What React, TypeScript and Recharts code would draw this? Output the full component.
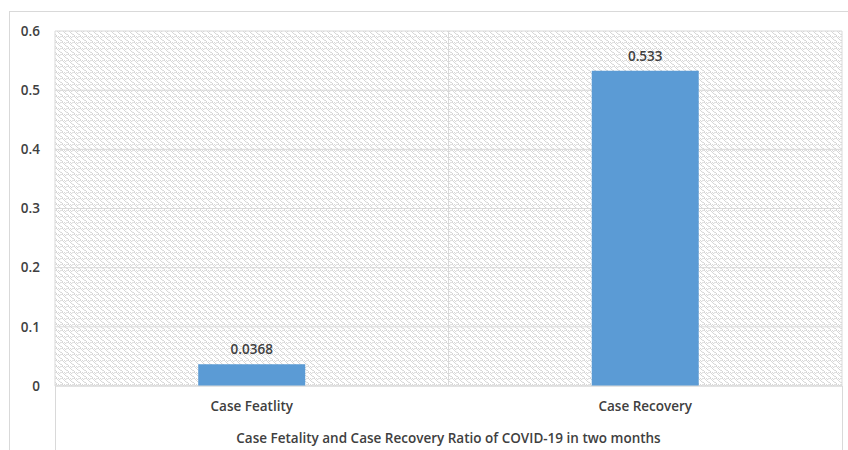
import { BarChart, Bar, XAxis, YAxis, CartesianGrid, LabelList } from 'recharts';

const categories = ['Case Featlity', 'Case Recovery'];
const ratios = [0.0368, 0.533];
const yTicks = [0, 0.1, 0.2, 0.3, 0.4, 0.5, 0.6];
const axisTitle = 'Case Fetality and Case Recovery Ratio of COVID-19 in two months';

const data = categories.map((name, i) => ({ name, ratio: ratios[i] }));

const FONT = '"Open Sans", sans-serif';
const TEXT = '#404040';
const GRID = '#d9d9d9';
const textStyle = { fill: TEXT, fontSize: 13.5, fontFamily: FONT, fontWeight: 600 };

export default function App() {
  return (
    <div style={{ position: 'absolute', left: 0, top: 0, width: 848, height: 450, background: '#fff', fontFamily: FONT }}>
      {/* outer chart frame (open at the bottom, cut by the window) */}
      <div style={{ position: 'absolute', left: 9, top: 11, width: 839, height: 439, borderLeft: '1px solid #d9d9d9', borderTop: '1px solid #d9d9d9' }} />
      {/* category table edges below the plot */}
      <div style={{ position: 'absolute', left: 55, top: 386, width: 786, height: 64, borderLeft: '1px solid #d9d9d9', borderRight: '1px solid #d9d9d9' }} />
      <BarChart
        width={848}
        height={450}
        data={data}
        margin={{ top: 31, right: 6, bottom: 0, left: 0 }}
        barCategoryGap="36.4%"
        style={{ position: 'absolute', left: 0, top: 0 }}
      >
        <defs>
          <pattern id="hatch" width="6" height="6" patternUnits="userSpaceOnUse">
            <rect width="6" height="6" fill="#ffffff" />
            <path d="M0 1 L2 0 L6 4 M-1 5 L1 4 L3 6 M4 0 L6 2" stroke="#d2d2d2" strokeWidth="0.9" fill="none" />
          </pattern>
        </defs>
        <CartesianGrid
          fill="url(#hatch)"
          stroke={GRID}
          verticalCoordinatesGenerator={({ offset }: any) => [
            offset.left,
            offset.left + offset.width / 2,
            offset.left + offset.width,
          ]}
        />
        <XAxis
          dataKey="name"
          height={64}
          axisLine={{ stroke: GRID }}
          tickLine={false}
          tickSize={0}
          tickMargin={15}
          tick={textStyle}
          label={{ value: axisTitle, position: 'insideBottom', offset: 7, ...textStyle }}
        />
        <YAxis
          width={55}
          domain={[0, 0.6]}
          ticks={yTicks}
          axisLine={false}
          tickLine={false}
          tickSize={0}
          tickMargin={15}
          tick={textStyle}
        />
        <Bar dataKey="ratio" fill="#5b9bd5" isAnimationActive={false}>
          <LabelList dataKey="ratio" position="top" offset={10} {...textStyle} />
        </Bar>
      </BarChart>
    </div>
  );
}
